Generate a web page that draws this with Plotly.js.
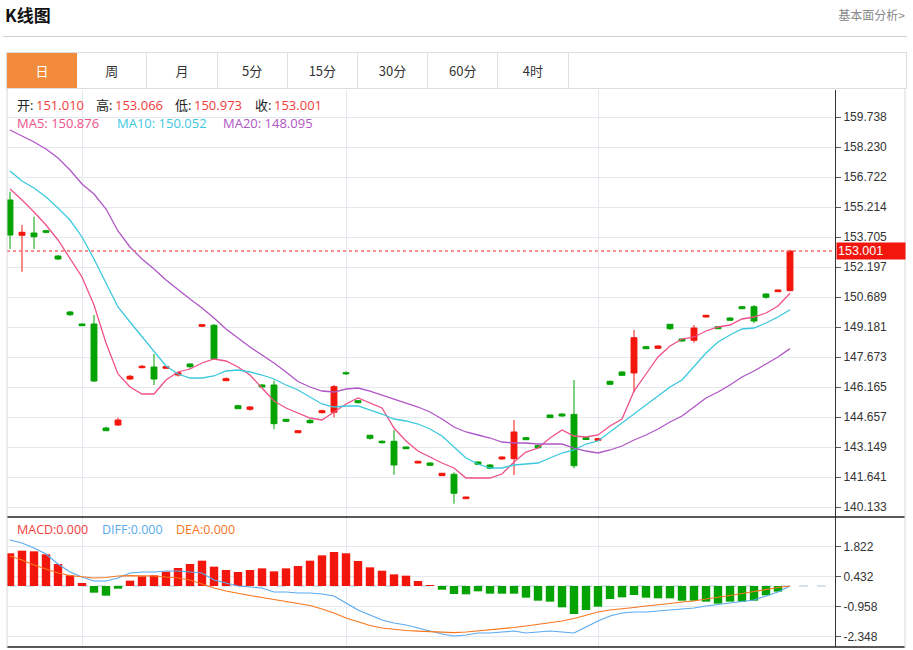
<!DOCTYPE html>
<html><head><meta charset="utf-8">
<script src="https://cdn.plot.ly/plotly-3.0.1.min.js"></script>
<style>
html,body{margin:0;padding:0;background:#fff;width:913px;height:650px;overflow:hidden;font-family:"Noto Sans CJK SC","Open Sans",sans-serif;}
#chart{position:absolute;left:0;top:0;width:913px;height:650px;}
.hdr{position:absolute;z-index:5;}
#title{left:5px;top:3px;font-size:17px;font-weight:bold;color:#111;line-height:24px;}
#more{right:8px;top:6px;font-size:12px;color:#888;line-height:18px;}
#rule{left:3px;top:36px;width:904px;height:1px;background:#cfcfcf;}
#tabs{left:6px;top:52px;width:899px;height:35px;border:1px solid #ddd;display:flex;background:#fff;}
.tab{width:70.2px;height:35px;line-height:35px;text-align:center;font-size:13px;color:#333;border-right:1px solid #e0e0e0;box-sizing:border-box;}
.tab.on{background:#f38b3c;color:#fff;border-right:none;}
</style></head>
<body>
<div id="chart"></div>
<div class="hdr" id="title">K线图</div>
<div class="hdr" id="more">基本面分析&gt;</div>
<div class="hdr" id="rule"></div>
<div class="hdr" id="tabs">
<div class="tab on">日</div><div class="tab">周</div><div class="tab">月</div><div class="tab">5分</div><div class="tab">15分</div><div class="tab">30分</div><div class="tab">60分</div><div class="tab">4时</div>
</div>
<script>
// ---- data ----
const openP  = [155.566,153.791,153.907,154.023,152.751,149.936,149.333,149.333,144.105,144.256,146.568,147.136,147.171,147.106,146.769,147.322,149.218,149.268,146.483,145.225,145.045,146.266,146.266,144.542,143.869,144.492,144.874,144.894,146.885,145.478,143.738,143.437,143.437,143.150,142.345,142.345,141.708,141.778,140.551,142.396,142.245,142.547,142.563,143.617,143.216,144.758,144.808,144.790,143.617,143.487,146.452,146.920,146.870,148.192,148.111,149.318,148.579,148.514,149.685,149.197,149.634,150.202,150.202,150.841,150.957,151.010];
const highP  = [155.983,154.309,154.726,154.058,152.800,149.986,149.350,149.785,144.170,144.623,146.769,147.272,147.825,147.220,146.935,147.357,149.333,149.333,146.650,145.275,145.211,146.316,146.483,144.557,144.000,144.557,145.025,146.266,146.954,145.512,143.768,143.487,144.005,143.165,142.460,142.380,141.845,141.879,140.650,142.430,142.295,142.680,144.507,143.635,143.266,144.775,144.842,146.518,143.652,143.602,146.483,146.954,149.031,148.227,148.262,149.333,148.595,149.283,149.785,149.215,149.668,150.237,150.288,150.876,151.060,153.066];
const lowP   = [153.103,151.962,153.103,153.892,152.550,149.735,149.230,146.417,143.950,144.205,146.518,147.106,146.266,147.080,146.690,147.070,149.180,147.523,146.470,145.060,144.975,146.140,144.040,144.400,143.840,144.322,144.840,144.642,146.769,145.345,143.517,143.320,141.758,143.050,142.330,142.200,141.690,140.300,140.540,142.250,142.029,142.510,141.742,143.502,143.065,144.608,144.675,142.079,143.502,143.452,146.266,146.719,145.900,148.076,148.076,149.031,148.444,148.393,149.660,149.080,149.484,150.086,149.368,150.604,150.940,150.973];
const closeP = [153.807,153.942,153.720,153.942,152.600,149.800,149.248,146.467,143.969,144.507,146.704,147.206,146.568,147.187,146.885,147.187,149.298,147.573,146.583,145.075,145.160,146.165,144.322,144.441,143.969,144.372,144.975,146.182,146.835,145.377,143.587,143.366,142.245,143.064,142.430,142.230,141.829,140.823,140.636,142.280,142.079,142.647,143.904,143.517,143.115,144.624,144.708,142.210,143.527,143.567,146.302,146.754,148.644,148.092,148.227,149.097,148.478,149.132,149.770,149.097,149.519,150.101,149.483,150.675,151.042,153.001];
const ma5  = [156.119,155.566,154.962,154.309,153.555,152.650,151.695,150.288,148.377,146.819,146.165,145.814,145.814,146.518,146.920,147.070,147.372,147.573,147.473,147.171,146.769,146.115,145.462,145.110,144.859,144.607,144.507,144.909,145.311,145.613,145.361,145.110,144.105,143.451,142.948,142.647,142.345,142.094,141.591,141.591,141.591,141.792,142.396,142.898,143.099,143.602,144.004,143.703,143.652,143.753,144.205,144.557,145.964,146.819,147.674,148.227,148.578,148.679,148.981,149.182,149.282,149.584,149.684,149.885,150.237,150.876];
const ma10 = [157.023,156.521,156.169,155.716,155.163,154.560,153.706,152.600,151.393,150.187,149.433,148.679,147.925,147.221,146.819,146.618,146.618,146.719,146.970,147.020,146.920,146.769,146.568,146.266,146.015,145.663,145.311,145.160,145.211,145.211,145.010,144.808,144.557,144.457,144.306,144.054,143.703,143.150,142.597,142.295,142.094,142.094,142.245,142.295,142.345,142.597,142.848,142.999,143.300,143.451,143.904,144.356,144.808,145.261,145.713,146.165,146.518,147.221,147.875,148.428,148.780,149.081,149.131,149.383,149.684,150.052];
const ma20 = [159.084,158.783,158.481,158.129,157.677,157.074,156.370,155.867,155.113,154.007,153.203,152.600,152.097,151.544,151.042,150.589,150.137,149.634,149.081,148.629,148.176,147.774,147.372,146.920,146.442,146.165,145.964,145.914,146.065,146.115,145.964,145.763,145.562,145.361,145.160,144.909,144.557,144.155,143.904,143.753,143.602,143.401,143.351,143.351,143.300,143.300,143.300,143.099,142.948,142.848,142.999,143.200,143.502,143.753,144.054,144.406,144.708,145.160,145.613,145.914,146.266,146.668,146.970,147.322,147.674,148.095];
const macdBar = [1.515,1.636,1.607,1.468,1.019,0.494,0.139,-0.309,-0.448,-0.124,0.247,0.448,0.494,0.664,0.834,1.019,1.174,0.896,0.741,0.649,0.741,0.818,0.680,0.818,0.927,1.174,1.421,1.575,1.515,1.158,0.865,0.710,0.540,0.479,0.232,0.046,-0.170,-0.371,-0.386,-0.247,-0.355,-0.355,-0.355,-0.540,-0.680,-0.726,-0.988,-1.297,-1.112,-0.958,-0.602,-0.525,-0.417,-0.540,-0.571,-0.571,-0.680,-0.680,-0.726,-0.818,-0.726,-0.726,-0.680,-0.432,-0.262,0];
const diff = [2.131,1.992,1.761,1.483,1.019,0.649,0.417,0.232,0.232,0.371,0.602,0.649,0.649,0.695,0.695,0.649,0.602,0.278,0.139,0,-0.046,-0.093,-0.278,-0.278,-0.324,-0.324,-0.371,-0.463,-0.788,-1.112,-1.344,-1.575,-1.714,-1.807,-1.946,-2.085,-2.224,-2.317,-2.270,-2.178,-2.178,-2.131,-2.085,-2.178,-2.131,-2.085,-2.131,-2.178,-1.900,-1.622,-1.390,-1.251,-1.205,-1.205,-1.158,-1.112,-1.066,-1.019,-0.927,-0.857,-0.788,-0.695,-0.649,-0.463,-0.278,0];
const dea = [1.390,1.205,0.973,0.788,0.602,0.486,0.417,0.371,0.394,0.463,0.477,0.477,0.463,0.417,0.371,0.278,0.093,-0.093,-0.232,-0.347,-0.440,-0.533,-0.625,-0.718,-0.811,-0.903,-1.066,-1.251,-1.483,-1.668,-1.830,-1.946,-2.015,-2.062,-2.094,-2.117,-2.131,-2.164,-2.131,-2.085,-2.039,-1.992,-1.923,-1.853,-1.784,-1.714,-1.622,-1.506,-1.367,-1.205,-1.112,-1.066,-0.996,-0.927,-0.880,-0.811,-0.741,-0.695,-0.602,-0.533,-0.440,-0.347,-0.255,-0.139,-0.069,0];
const priceTicks = [140.133,141.641,143.149,144.657,146.165,147.673,149.181,150.689,152.197,153.705,155.214,156.722,158.230,159.738];
const macdTicks = [-2.348,-0.958,0.432,1.822];
const monthStarts = [6,28,49];

// ---- styles ----
const UP='#f2160c', DN='#03a303';
const C5='#f0508a', C10='#3cc8de', C20='#b056c6', CDIFF='#5aaaf0', CDEA='#f7761e', CVAL='#f23c3c';
const GRID='#e4e9ef';
const idx = closeP.map((_,i)=>i);
const last = closeP.length-1;

const traces = [
 {type:'candlestick', x:idx, open:openP, high:highP, low:lowP, close:closeP, xaxis:'x', yaxis:'y',
  increasing:{line:{color:UP,width:1}, fillcolor:UP}, decreasing:{line:{color:DN,width:1}, fillcolor:DN},
  whiskerwidth:0, hoverinfo:'skip', showlegend:false},
 {type:'scatter', mode:'lines', x:idx, y:ma5, line:{color:C5,width:1.3}, xaxis:'x', yaxis:'y', hoverinfo:'skip', showlegend:false},
 {type:'scatter', mode:'lines', x:idx, y:ma10, line:{color:C10,width:1.3}, xaxis:'x', yaxis:'y', hoverinfo:'skip', showlegend:false},
 {type:'scatter', mode:'lines', x:idx, y:ma20, line:{color:C20,width:1.3}, xaxis:'x', yaxis:'y', hoverinfo:'skip', showlegend:false},
 {type:'bar', x:idx, y:macdBar, width:0.7, marker:{color:macdBar.map(v=>v>=0?UP:DN), line:{width:0}}, xaxis:'x', yaxis:'y2', hoverinfo:'skip', showlegend:false},
 {type:'scatter', mode:'lines', x:idx, y:diff, line:{color:CDIFF,width:1.2}, xaxis:'x', yaxis:'y2', hoverinfo:'skip', showlegend:false},
 {type:'scatter', mode:'lines', x:idx, y:dea, line:{color:CDEA,width:1.2}, xaxis:'x', yaxis:'y2', hoverinfo:'skip', showlegend:false}
];

const W=828, TOP=90, H=558;
const px = p => (p-7)/W;
const py = p => (TOP+H-p)/H;
const FONT = '"Open Sans","Noto Sans CJK SC",sans-serif';
function ann(x, y, text, color, size){
  return {xref:'paper', yref:'paper', x:px(x), y:py(y), xanchor:'left', yanchor:'middle', text:text,
    showarrow:false, borderpad:0, font:{family:FONT, size:size||13, color:color}};
}
const annotations = [
  ann(16,105,'开:','#222'), ann(35,105,openP[last].toFixed(3),CVAL),
  ann(95,105,'高:','#222'), ann(114,105,highP[last].toFixed(3),CVAL),
  ann(174,105,'低:','#222'), ann(193,105,lowP[last].toFixed(3),CVAL),
  ann(254,105,'收:','#222'), ann(273,105,closeP[last].toFixed(3),CVAL),
  ann(16,123,'MA5: '+ma5[last].toFixed(3),C5),
  ann(116,123,'MA10: '+ma10[last].toFixed(3),C10),
  ann(222,123,'MA20: '+ma20[last].toFixed(3),C20),
  ann(16,529,'MACD:'+macdBar[last].toFixed(3),CVAL,12.5),
  ann(101,529,'DIFF:'+diff[last].toFixed(3),CDIFF,12.5),
  ann(175,529,'DEA:'+dea[last].toFixed(3),CDEA,12.5),
  {xref:'paper', yref:'y', x:px(836), y:closeP[last], xanchor:'left', yanchor:'middle', text:closeP[last].toFixed(3),
   showarrow:false, bgcolor:'#f2160c', borderpad:1, width:66, height:14, align:'left',
   font:{family:'"Liberation Sans",Arial,sans-serif', size:12.5, color:'#fff'}}
];

const yAxisCommon = {side:'right', showgrid:true, gridcolor:GRID, gridwidth:1, zeroline:false,
  showline:true, linecolor:'#333', linewidth:1, ticks:'outside', ticklen:5, tickcolor:'#555',
  tickfont:{family:'"Liberation Sans",Arial,sans-serif', size:12, color:'#333'}, fixedrange:true};

const layout = {
  width:913, height:650, margin:{l:7, r:78, t:TOP, b:2, pad:0},
  paper_bgcolor:'rgba(0,0,0,0)', plot_bgcolor:'#fff', showlegend:false, hovermode:false,
  xaxis:{range:[-0.25,68.75], tickvals:monthStarts, showticklabels:false, ticks:'', showgrid:true, gridcolor:GRID,
    zeroline:false, showline:false, rangeslider:{visible:false}, fixedrange:true, anchor:'y2'},
  yaxis:Object.assign({}, yAxisCommon, {domain:[py(517),1], range:[139.631,161.095], tickvals:priceTicks, ticktext:priceTicks.map(v=>v.toFixed(3))}),
  yaxis2:Object.assign({}, yAxisCommon, {domain:[py(647),py(517)], range:[-2.826,3.197], tickvals:macdTicks, ticktext:macdTicks.map(v=>v.toFixed(3))}),
  shapes:[
    {type:'line', xref:'paper', yref:'y', x0:0, x1:1, y0:closeP[last], y1:closeP[last], line:{color:'#f56a6a', width:1.6, dash:'dot'}},
    {type:'line', xref:'paper', yref:'y2', x0:0, x1:1, y0:0, y1:0, layer:'below', line:{color:'#a9c9de', width:1, dash:'dash'}},
    {type:'line', xref:'paper', yref:'paper', x0:0, x1:px(905), y0:py(517), y1:py(517), line:{color:'#222', width:1.5}},
    {type:'line', xref:'paper', yref:'paper', x0:0, x1:px(905), y0:py(647), y1:py(647), line:{color:'#222', width:1.5}},
    {type:'line', xref:'paper', yref:'paper', x0:0, x1:0, y0:py(648), y1:py(88), line:{color:'#d8d8d8', width:1}},
    {type:'line', xref:'paper', yref:'paper', x0:px(905), x1:px(905), y0:py(648), y1:py(88), line:{color:'#d8d8d8', width:1}}
  ],
  annotations:annotations
};
Plotly.newPlot('chart', traces, layout, {displayModeBar:false, staticPlot:true});
</script>
</body></html>
